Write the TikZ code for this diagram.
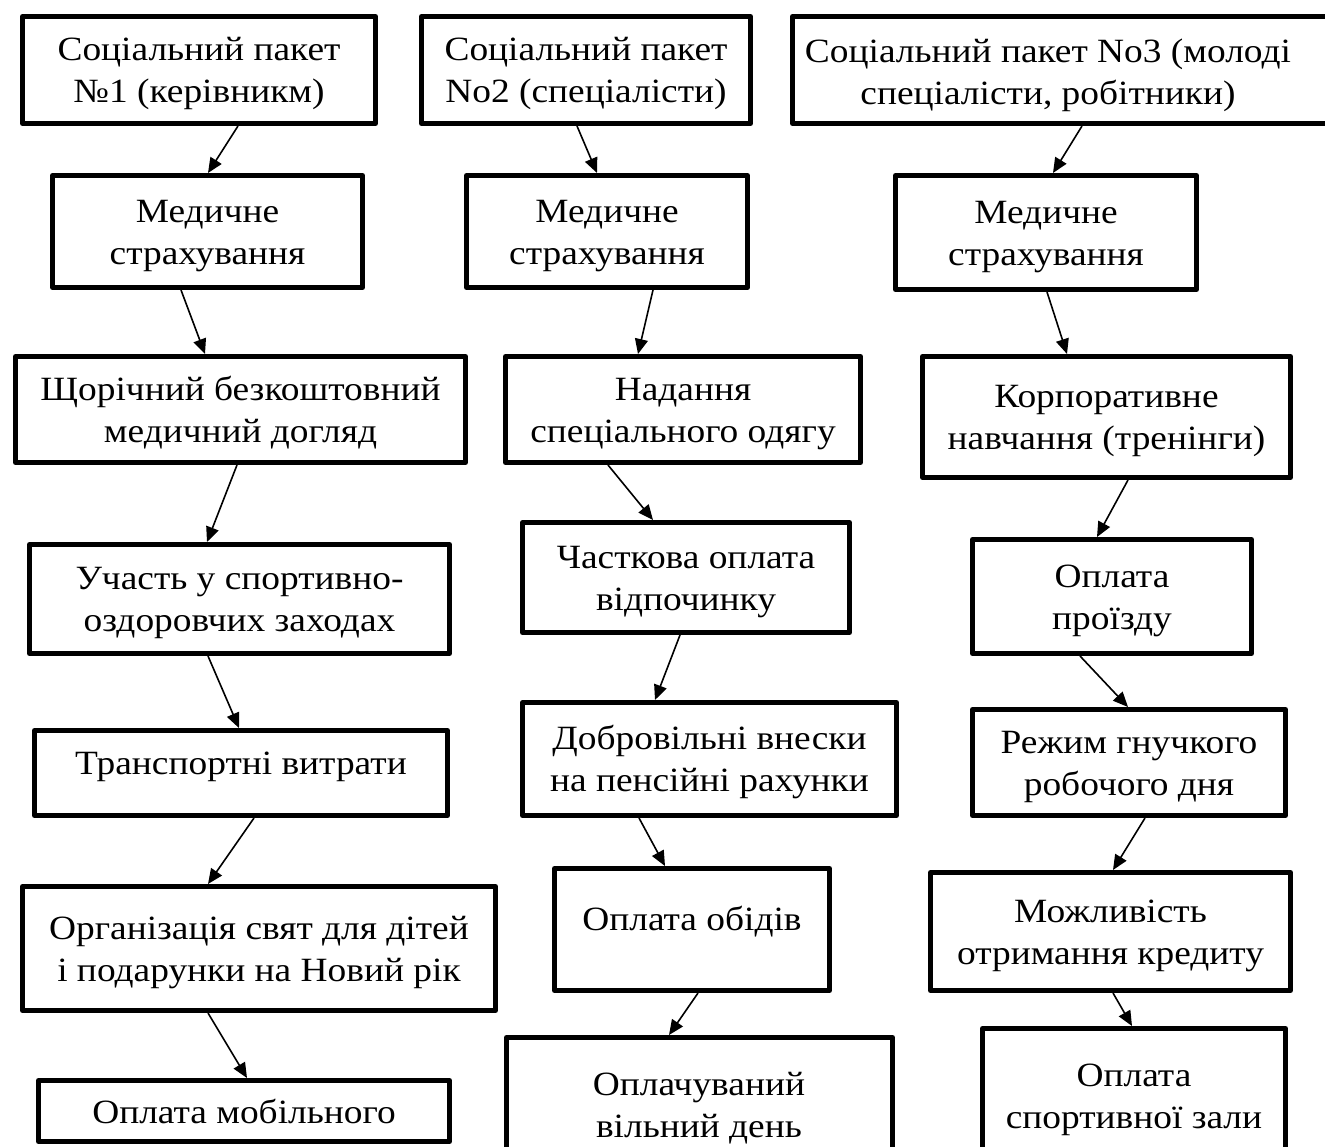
\documentclass[tikz,border=0pt]{standalone}
\usepackage{fontspec}
\setmainfont{Liberation Serif}[FakeStretch=1.1]
\usetikzlibrary{arrows.meta}
\newcommand{\ust}{\rule{0pt}{31pt}}
\tikzset{
  box/.style={draw=black, line width=5pt, line join=round, rectangle, inner sep=0pt, align=center,
    font=\fontsize{34}{42}\selectfont},
  txt/.style={inner sep=0pt, align=center, font=\fontsize{34}{42}\selectfont},
  arr/.style={line width=1.6pt, -{Triangle[length=15pt,width=13pt]}}
}
\begin{document}
\begin{tikzpicture}[x=1pt,y=-1pt]
\useasboundingbox (0,0) rectangle (1325,1146);
\fill[white] (0,0) rectangle (1325,1146);
\clip (0,0) rectangle (1325,1146);
% column 1
\node[box, minimum width=353pt, minimum height=107pt] (A1) at (199,70) {\ust Соціальний пакет\\№1 (керівникм)};
\node[box, minimum width=310pt, minimum height=112pt] (A2) at (207.5,231.5) {\ust Медичне\\страхування};
\node[box, minimum width=450pt, minimum height=106pt] (A3) at (240.5,409.5) {\ust Щорічний безкоштовний\\медичний догляд};
\node[box, minimum width=420pt, minimum height=109pt] (A4) at (239.5,599) {\ust Участь у спортивно-\\оздоровчих заходах};
\node[box, minimum width=413pt, minimum height=85pt] (A5) at (241,773) {};
\node[txt] (tA5) at (241,767) {Транспортні витрати};
\node[box, minimum width=473pt, minimum height=124pt] (A6) at (259,948.5) {\ust Організація свят для дітей\\і подарунки на Новий рік};
\node[box, minimum width=411pt, minimum height=61pt] (A7) at (244,1111) {Оплата мобільного};
% column 2
\node[box, minimum width=329pt, minimum height=107pt] (B1) at (586,70) {\ust Соціальний пакет\\No2 (спеціалісти)};
\node[box, minimum width=281pt, minimum height=112pt] (B2) at (607,231.5) {\ust Медичне\\страхування};
\node[box, minimum width=355pt, minimum height=106pt] (B3) at (683,409.5) {\ust Надання\\спеціального одягу};
\node[box, minimum width=327pt, minimum height=110pt] (B4) at (686,577.5) {\ust Часткова оплата\\відпочинку};
\node[box, minimum width=374pt, minimum height=113pt] (B5) at (709.5,759) {\ust Добровільні внески\\на пенсійні рахунки};
\node[box, minimum width=275pt, minimum height=122pt] (B6) at (692,929.5) {};
\node[txt] (tB6) at (692,922) {Оплата обідів};
\node[box, minimum width=386pt, minimum height=130pt] (B7) at (699.5,1102.5) {};
\node[txt] (tB7) at (699,1104) {\ust Оплачуваний\\вільний день};
% column 3
\node[box, minimum width=550pt, minimum height=107pt] (C1) at (1067.5,70) {};
\node[txt] (tC1) at (1048,72) {\ust Соціальний пакет No3 (молоді\\спеціалісти, робітники)};
\node[box, minimum width=301pt, minimum height=114pt] (C2) at (1046,232.5) {\ust Медичне\\страхування};
\node[box, minimum width=368pt, minimum height=121pt] (C3) at (1106.5,417) {\ust Корпоративне\\навчання (тренінги)};
\node[box, minimum width=279pt, minimum height=114pt] (C4) at (1112,596.5) {\ust Оплата\\проїзду};
\node[box, minimum width=313pt, minimum height=106pt] (C5) at (1129,762.5) {\ust Режим гнучкого\\робочого дня};
\node[box, minimum width=360pt, minimum height=118pt] (C6) at (1110.5,931.5) {\ust Можливість\\отримання кредиту};
\node[box, minimum width=303pt, minimum height=139pt] (C7) at (1134,1098) {};
\node[txt] (tC7) at (1134,1096) {\ust Оплата\\спортивної зали};
% arrows column 1
\draw[arr] ([xshift=39pt]A1.south) -- ([xshift=0.5pt]A2.north);
\draw[arr] ([xshift=-26.5pt]A2.south) -- ([xshift=-35.5pt]A3.north);
\draw[arr] ([xshift=-3.5pt]A3.south) -- ([xshift=-32.5pt]A4.north);
\draw[arr] ([xshift=-31.5pt]A4.south) -- ([xshift=-2pt]A5.north);
\draw[arr] ([xshift=13pt]A5.south) -- ([xshift=-51pt]A6.north);
\draw[arr] ([xshift=-51pt]A6.south) -- ([xshift=3pt]A7.north);
% arrows column 2
\draw[arr] ([xshift=-9pt]B1.south) -- ([xshift=-10pt]B2.north);
\draw[arr] ([xshift=46pt]B2.south) -- ([xshift=-45pt]B3.north);
\draw[arr] ([xshift=-75pt]B3.south) -- ([xshift=-33pt]B4.north);
\draw[arr] ([xshift=-6pt]B4.south) -- ([xshift=-54.5pt]B5.north);
\draw[arr] ([xshift=-70.5pt]B5.south) -- ([xshift=-27pt]B6.north);
\draw[arr] ([xshift=6pt]B6.south) -- ([xshift=-30.5pt]B7.north);
% arrows column 3
\draw[arr] ([xshift=14.5pt]C1.south) -- ([xshift=7pt]C2.north);
\draw[arr] ([xshift=1pt]C2.south) -- ([xshift=-39.5pt]C3.north);
\draw[arr] ([xshift=21.5pt]C3.south) -- ([xshift=-15pt]C4.north);
\draw[arr] ([xshift=-32pt]C4.south) -- ([xshift=-1pt]C5.north);
\draw[arr] ([xshift=16pt]C5.south) -- ([xshift=2.5pt]C6.north);
\draw[arr] ([xshift=2.5pt]C6.south) -- ([xshift=-2pt]C7.north);
\end{tikzpicture}
\end{document}
